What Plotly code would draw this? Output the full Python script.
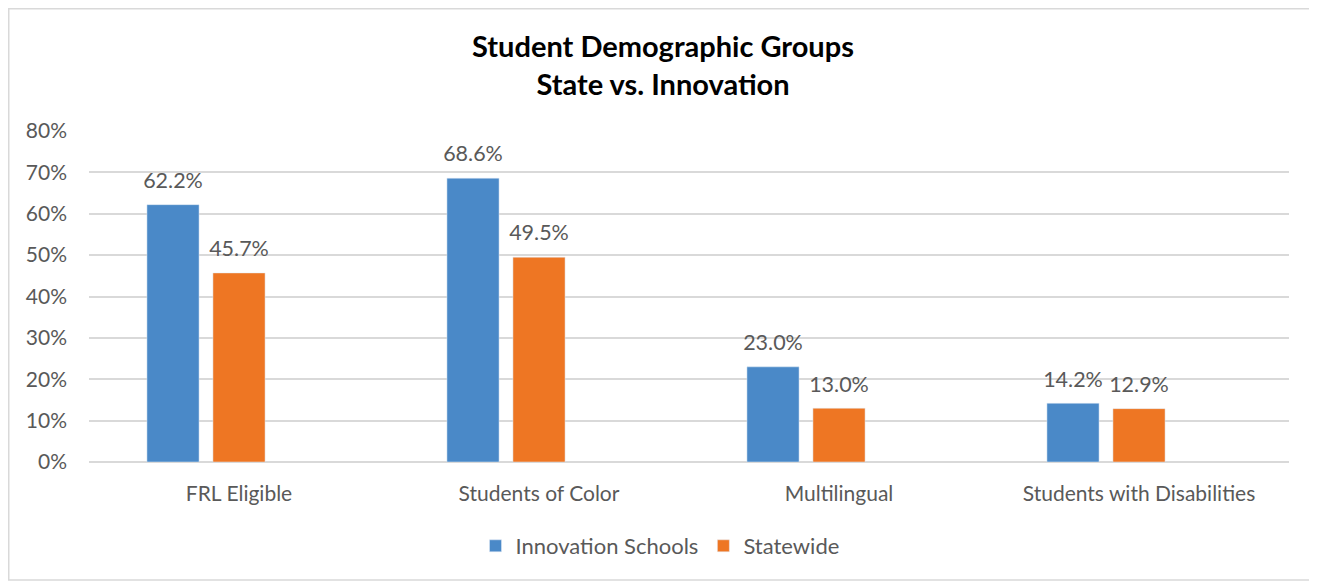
import plotly.graph_objects as go

categories = ["FRL Eligible", "Students of Color", "Multilingual", "Students with Disabilities"]
innovation = [62.2, 68.6, 23.0, 14.2]
statewide = [45.7, 49.5, 13.0, 12.9]
empty_series = [None, None, None, None]
y_ticks = [0, 10, 20, 30, 40, 50, 60, 70, 80]
y_tick_labels = [f"{v}%" for v in y_ticks]

FONT = "Lato"
TXT = "#595959"
LABEL_SIZE = 21.5


def labels(vals):
    # main label plus a tiny spacer line to lift the label off the bar top
    return [f"<span style='font-size:{LABEL_SIZE}px'>{v:.1f}%</span><br>\u00a0" for v in vals]


fig = go.Figure()
fig.add_trace(go.Bar(
    name="Innovation Schools", x=categories, y=innovation,
    marker=dict(color="#4A89C8"),
    text=labels(innovation), textposition="outside", constraintext="none",
    textfont=dict(size=9, color=TXT, family=FONT), cliponaxis=False,
))
fig.add_trace(go.Bar(
    name="Statewide", x=categories, y=statewide,
    marker=dict(color="#EE7623"),
    text=labels(statewide), textposition="outside", constraintext="none",
    textfont=dict(size=9, color=TXT, family=FONT), cliponaxis=False,
))
fig.add_trace(go.Bar(
    name="", x=categories, y=empty_series, showlegend=False,
    marker=dict(color="rgba(0,0,0,0)"), hoverinfo="skip",
))

# page body has an 8px margin; work in screen pixels and subtract it
OFF = 8
W, H = 1317 - OFF, 582 - OFF
L = 89 - OFF
R = W - (1289 - OFF)
T = 131 - OFF
B = H - (462 - OFF)
pw, ph = W - L - R, H - T - B


def px_x(p):
    return (p - L) / pw


def px_y(p):
    return (H - B - p) / ph


fig.update_layout(
    width=W, height=H,
    margin=dict(l=L, r=R, t=T, b=B),
    paper_bgcolor="white", plot_bgcolor="white",
    barmode="group", bargap=0.34, bargroupgap=0.21,
    title=dict(
        text="<b>Student Demographic Groups<br>State vs. Innovation</b>",
        x=(663 - OFF) / W, xanchor="center", y=1 - (57 - OFF) / H, yanchor="middle",
        font=dict(size=29, color="#000000", family=FONT),
    ),
    font=dict(family=FONT, color=TXT, size=21),
    xaxis=dict(
        showgrid=False, showline=False, ticks="", ticklabelstandoff=17,
        tickfont=dict(size=21, color=TXT, family=FONT),
    ),
    yaxis=dict(
        range=[0, 80], tickvals=y_ticks, ticktext=y_tick_labels,
        showgrid=True, gridcolor="#D9D9D9", gridwidth=1.5,
        zeroline=True, zerolinecolor="#D9D9D9", zerolinewidth=1.5,
        showline=False, ticks="", ticklabelstandoff=21,
        tickfont=dict(size=21, color=TXT, family=FONT),
    ),
    legend=dict(
        orientation="h", x=(660 - OFF - L) / pw, xanchor="center",
        y=px_y(546 - OFF), yanchor="middle",
        font=dict(size=22, color=TXT, family=FONT),
        itemwidth=30, traceorder="normal",
    ),
    shapes=[dict(
        type="rect", xref="paper", yref="paper",
        x0=px_x(0.75), x1=px_x(1310 - OFF), y0=px_y(580 - OFF), y1=px_y(0.75),
        line=dict(color="#D9D9D9", width=1.5), fillcolor="rgba(0,0,0,0)",
        layer="below",
    )],
)

fig.write_html("out.html")
